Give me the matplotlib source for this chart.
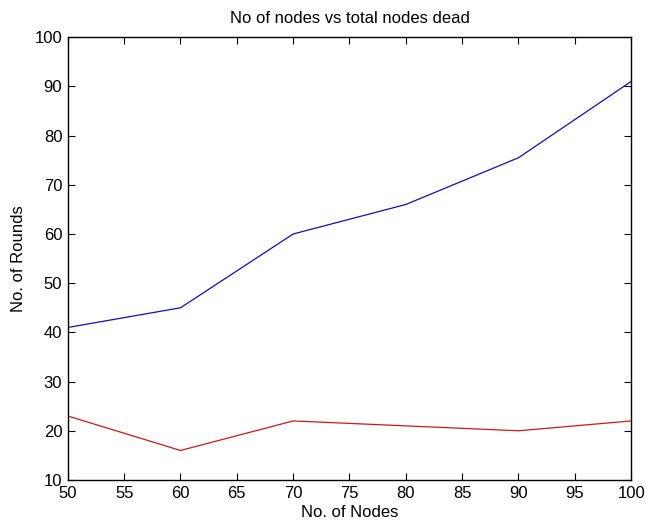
import matplotlib
matplotlib.use("Agg")
import matplotlib.pyplot as plt

nodes = [50, 60, 70, 80, 90, 100]
first_dead = [41, 45, 60, 66, 75.5, 91]
total_dead = [23, 16, 22, 21, 20, 22]

plt.rcParams['font.family'] = ['Liberation Sans', 'DejaVu Sans']
plt.rcParams['font.size'] = 12

fig = plt.figure(figsize=(6.46, 5.24), dpi=100)
ax = fig.add_axes([0.105, 0.084, 0.872, 0.845])
ax.plot(nodes, first_dead, color='#1010b8', linewidth=0.9)
ax.plot(nodes, total_dead, color='#d01818', linewidth=0.9)
ax.set_xlim(50, 100)
ax.set_ylim(10, 100)
ax.set_xticks(range(50, 101, 5))
ax.set_yticks(range(10, 101, 10))
ax.tick_params(direction='in', top=True, right=True, length=5, width=0.8, pad=4)
for s in ax.spines.values():
    s.set_linewidth(1.0)
ax.set_title('No of nodes vs total nodes dead', fontsize=12, pad=10)
ax.set_xlabel('No. of Nodes', labelpad=3)
ax.set_ylabel('No. of Rounds', labelpad=6)
fig.savefig('out.png', dpi=100)
